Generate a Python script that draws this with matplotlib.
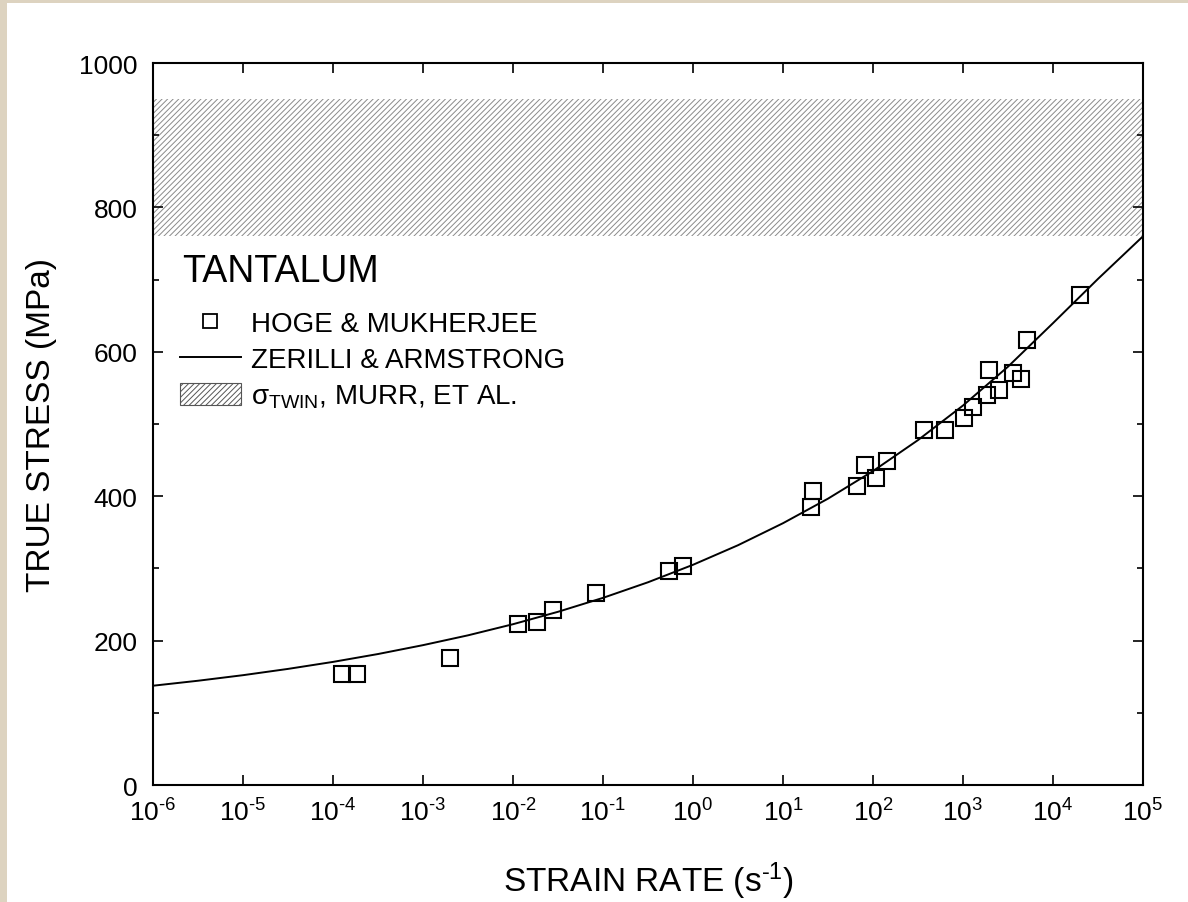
import matplotlib
matplotlib.use('Agg')
import matplotlib.pyplot as plt
import numpy as np
from matplotlib.lines import Line2D
from matplotlib.patches import Patch, Rectangle
from matplotlib.ticker import MultipleLocator, NullLocator, LogLocator, FuncFormatter

plt.rcParams['font.family'] = ['Liberation Sans', 'DejaVu Sans']
plt.rcParams['mathtext.fontset'] = 'custom'
plt.rcParams['mathtext.rm'] = 'Liberation Sans'
plt.rcParams['mathtext.it'] = 'Liberation Sans:italic'
plt.rcParams['mathtext.bf'] = 'Liberation Sans:bold'
plt.rcParams['axes.unicode_minus'] = False
plt.rcParams['hatch.linewidth'] = 0.7

# Hoge & Mukherjee data (strain rate in 1/s, stress in MPa)
rate_hm = [1.25e-4, 1.83e-4, 2.0e-3, 0.0114, 0.0183, 0.0281, 0.0836, 0.537, 0.767,
           21.7, 20.3, 65.9, 80.9, 108, 144, 369, 625, 1035, 1282, 1862, 2529,
           1959, 3565, 4446, 5105, 2.0e4]
stress_hm = [153.7, 153.7, 175.5, 222.6, 226.2, 242.4, 265.5, 296, 303.8,
             406.8, 385.5, 413.7, 443.6, 425.2, 449.2, 492.1, 492.1, 508.3, 524, 540.6, 547.1,
             575.2, 570.2, 562.3, 616.8, 678.7]

# Zerilli & Armstrong curve, read at half decades
za_rate = 10.0 ** np.arange(-6, 5.01, 0.5)
za_stress = [137.5, 144.4, 152.1, 160.8, 170.5, 181.4, 193.7, 207.3, 222.7, 239.9,
             259.2, 280.8, 305.0, 332.1, 362.6, 396.6, 434.8, 477.7, 525.6, 579.4,
             639.7, 701.0, 760.0]

# twinning stress band (Murr et al.)
twin_lo, twin_hi = 760, 950

fig = plt.figure(figsize=(11.88, 9.03), dpi=100)
fig.patch.set_facecolor('#ddd3c0')
fig.patches.append(Rectangle((7/1188, 0), 1, (903-4)/903, transform=fig.transFigure,
                             facecolor='white', edgecolor='none', zorder=-10))
ax = fig.add_axes([153/1188, 1-786/903, 990/1188, 722/903])
ax.set_facecolor('white')

ax.axhspan(twin_lo, twin_hi, facecolor='white', edgecolor='#8a8a8a', hatch='//////', lw=0)
ax.plot(za_rate, za_stress, color='k', lw=1.4, zorder=3)
ax.plot(rate_hm, stress_hm, ls='none', marker='s', ms=11, mfc='none', mec='k', mew=1.5, zorder=4)

ax.set_xscale('log')
ax.set_xlim(1e-6, 1e5)
ax.set_ylim(0, 1000)
ax.xaxis.set_major_locator(LogLocator(base=10, numticks=20))
ax.xaxis.set_minor_locator(NullLocator())
ax.xaxis.set_major_formatter(FuncFormatter(
    lambda v, p: '10$^{\\text{%d}}$' % int(round(np.log10(v)))))
ax.yaxis.set_major_locator(MultipleLocator(200))
ax.yaxis.set_minor_locator(MultipleLocator(100))
ax.tick_params(which='both', direction='in', top=True, right=True, width=1.2, labelsize=19)
ax.tick_params(which='major', length=7)
ax.tick_params(which='minor', length=4.5)
ax.tick_params(axis='x', pad=10)
ax.tick_params(axis='y', pad=11)
for s in ax.spines.values():
    s.set_linewidth(1.5)

ax.set_xlabel('STRAIN RATE (s$^{\\text{-1}}$)', fontsize=24, labelpad=24)
ax.set_ylabel('TRUE STRESS (MPa)', fontsize=24, labelpad=16)

ax.text(0.029, 0.698, 'TANTALUM', transform=ax.transAxes, fontsize=27, va='baseline', ha='left')

handles = [Line2D([], [], ls='none', marker='s', ms=10, mfc='none', mec='k', mew=1.3),
           Line2D([], [], color='k', lw=1.4),
           Patch(facecolor='white', edgecolor='#555555', hatch='//////', lw=0.8)]
labels = ['HOGE & MUKHERJEE', 'ZERILLI & ARMSTRONG', 'σ$_{\\mathrm{TWIN}}$, MURR, ET AL.']
leg = ax.legend(handles, labels, loc='upper left', bbox_to_anchor=(0.027, 0.657),
                frameon=False, fontsize=20,
                handlelength=2.2, handleheight=0.8, handletextpad=0.35, labelspacing=0.35,
                borderpad=0, borderaxespad=0)

fig.savefig('out.png', dpi=100, facecolor=fig.get_facecolor())
